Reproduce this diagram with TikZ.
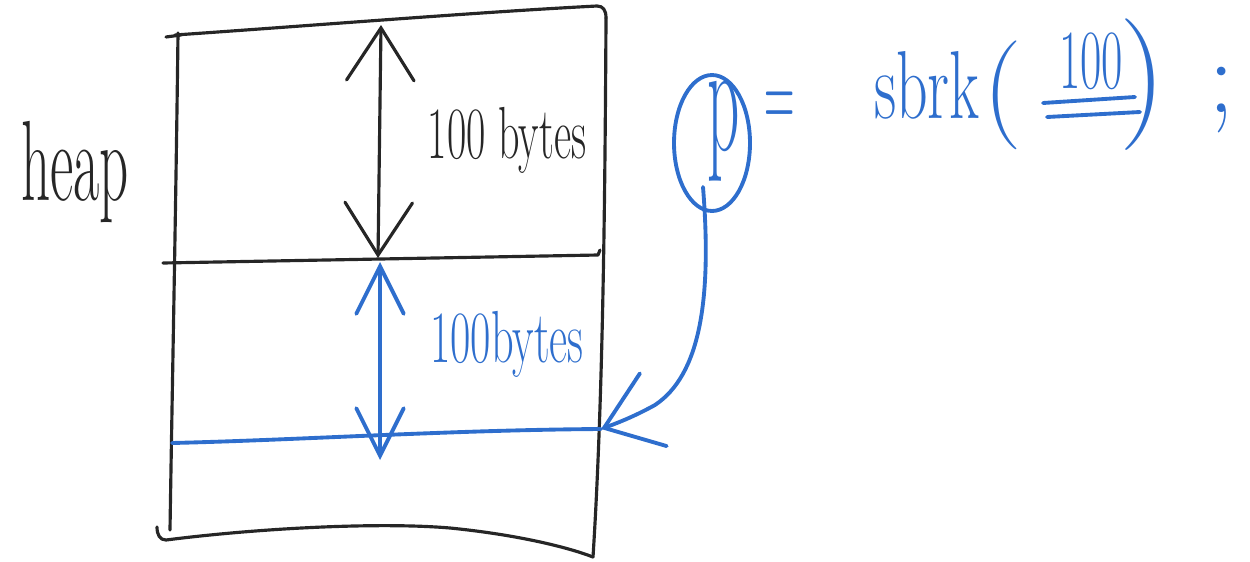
\documentclass[tikz,border=0pt]{standalone}
\usepackage{graphicx}
\usetikzlibrary{arrows.meta,shapes.geometric}
\definecolor{ink}{RGB}{38,38,38}
\definecolor{pen}{RGB}{46,110,205}
% hand-lettered text: font size, horizontal squeeze, text
\newcommand\handtext[3]{\scalebox{#2}[1]{\fontsize{#1}{#1}\selectfont #3}}
\begin{document}
\begin{tikzpicture}[x=0.02cm,y=-0.02cm,
  inkline/.style={draw=ink,line width=1.8pt,line cap=round,line join=round},
  penline/.style={draw=pen,line width=2.2pt,line cap=round,line join=round},
  inkbarb/.tip={Straight Barb[length=1.05cm,width=1.35cm,line cap=round]},
  penbarb/.tip={Straight Barb[length=0.95cm,width=0.95cm,line cap=round]},
  hitbarb/.tip={Straight Barb[length=1.05cm,width=1.55cm,line cap=round]},
  inktext/.style={text=ink,inner sep=0pt},
  pentext/.style={text=pen,inner sep=0pt}]
\useasboundingbox (0,0) rectangle (1250,561);

% ---- heap frame ----
\draw[inkline] (178,33) .. controls (176,200) and (172,400) .. (170,530);
\draw[inkline] (166,37) -- (181,35);
\draw[inkline] (175,35) .. controls (320,25) and (480,12) .. (597,6)
  .. controls (603,6) and (606,10) .. (606,18);
\draw[inkline] (606,18) .. controls (605,200) and (603,400) .. (593,557);
\draw[inkline] (157,527) .. controls (157,535) and (160,540) .. (166,540)
  .. controls (260,528) and (380,522) .. (450,528)
  .. controls (520,535) and (570,548) .. (593,557);
% boundary between the two blocks
\draw[inkline] (163,263) -- (598,255) -- (600,250);
% new break after sbrk
\draw[penline] (172,443) .. controls (300,440) and (450,430) .. (601,429);

% ---- labels ----
\node[inktext,anchor=base] (heap) at (75,200) {\handtext{65}{0.5}{heap}};
\node[inktext,anchor=base] (firstsize) at (507,158) {\handtext{42}{0.57}{100 bytes}};
\node[pentext,anchor=base] (secondsize) at (507,362) {\handtext{42}{0.6}{100bytes}};

% ---- size arrows ----
\coordinate (firsttop) at (381,25);
\coordinate (firstbot) at (378,258);
\draw[inkline,inkbarb-inkbarb] (firsttop) -- (firstbot);
\coordinate (secondtop) at (380,262);
\coordinate (secondbot) at (380,460);
\draw[penline,penbarb-penbarb] (secondtop) -- (secondbot);

% ---- p = sbrk(100); ----
\node[ellipse,draw=pen,line width=2.2pt,minimum width=1.52cm,minimum height=2.72cm,
  inner sep=0pt] (pring) at (712,143) {};
\node[pentext,anchor=base] (pvar) at (724,150) {\handtext{90}{0.4}{p}};
\node[pentext] (eq) at (780,111) {\handtext{60}{0.4}{=}};
\node[pentext,anchor=base] (call) at (927,118) {\handtext{55}{0.64}{sbrk}};
\node[pentext] (lpar) at (1003,95) {\fontsize{62}{62}\selectfont (};
\node[pentext,anchor=base] (arg) at (1091,88) {\handtext{48}{0.55}{100}};
\draw[penline] (1043,103) -- (1135,97);
\draw[penline] (1047,117) -- (1140,112);
\node[pentext] (rpar) at (1143,85) {\fontsize{75}{75}\selectfont )};
\node[pentext] (semi) at (1222,100) {\fontsize{60}{60}\selectfont ;};

% ---- pointer from p to the new break ----
\coordinate (ptail) at (703,187);
\coordinate (hit) at (601,429);
\draw[penline,-hitbarb] (ptail) .. controls (712,300) and (700,375) .. (655,405)
  .. controls (635,416) and (620,422) .. (hit);
\end{tikzpicture}
\end{document}
